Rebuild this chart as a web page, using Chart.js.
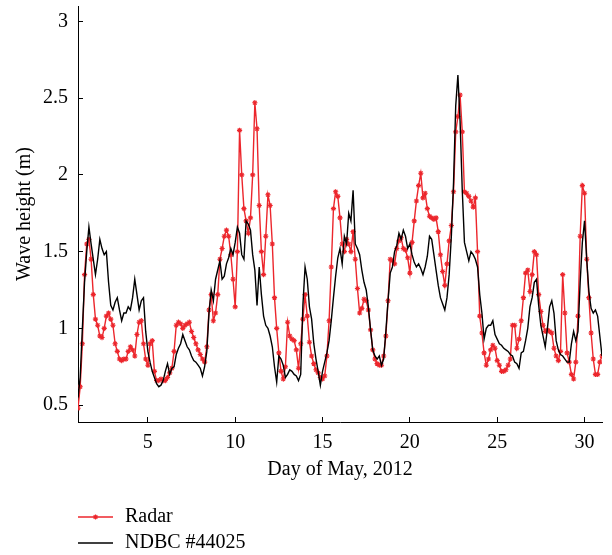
<!DOCTYPE html>
<html>
<head>
<meta charset="utf-8">
<title>Wave height, May 2012</title>
<script src="https://cdn.jsdelivr.net/npm/chart.js@4.4.0/dist/chart.umd.min.js"></script>
<style>
  html, body { margin: 0; padding: 0; background: #fff; }
  #wrap { width: 612px; height: 555px; }
</style>
</head>
<body>
<div id="wrap"><canvas id="waveChart" width="612" height="555"></canvas></div>
<script>
// 3-hourly samples, starting May 1 00:00 (day 1) up to day 31
const radarHs = [
  0.48, 0.62, 0.90, 1.35, 1.55, 1.58, 1.45, 1.22,
  1.06, 1.02, 0.95, 0.94, 1.00, 1.08, 1.10, 1.06,
  1.02, 0.90, 0.85, 0.80, 0.79, 0.80, 0.80, 0.85,
  0.88, 0.86, 0.82, 0.96, 1.04, 1.05, 0.90, 0.80,
  0.76, 0.90, 0.92, 0.72, 0.66, 0.66, 0.67, 0.66,
  0.66, 0.68, 0.71, 0.74, 0.85, 1.02, 1.04, 1.03,
  1.00, 1.02, 1.03, 1.04, 0.98, 0.94, 0.90, 0.86,
  0.83, 0.80, 0.78, 0.88, 1.12, 1.22, 1.05, 1.10,
  1.22, 1.45, 1.52, 1.60, 1.64, 1.60, 1.48, 1.32,
  1.14, 1.50, 2.29, 2.00, 1.78, 1.70, 1.62, 1.72,
  2.00, 2.47, 2.30, 1.80, 1.50, 1.35, 1.60, 1.87,
  1.80, 1.55, 1.20, 1.00, 0.84, 0.72, 0.67, 0.75,
  1.04, 0.95, 0.93, 0.92, 0.86, 0.74, 0.90, 1.06,
  1.22, 1.08, 0.91, 0.82, 0.77, 0.73, 0.71, 0.68,
  0.67, 0.69, 0.82, 1.05, 1.40, 1.78, 1.89, 1.86,
  1.72, 1.55, 1.50, 1.58, 1.55, 1.50, 1.63, 1.45,
  1.26, 1.10, 1.13, 1.19, 1.18, 1.12, 0.99, 0.86,
  0.80, 0.77, 0.76, 0.76, 0.82, 0.95, 1.18, 1.45,
  1.44, 1.42, 1.52, 1.57, 1.59, 1.52, 1.51, 1.46,
  1.36, 1.56, 1.70, 1.83, 1.93, 2.01, 1.85, 1.88,
  1.78, 1.73, 1.72, 1.71, 1.72, 1.63, 1.48, 1.37,
  1.28, 1.42, 1.57, 1.67, 1.89, 2.28, 2.38, 2.52,
  2.28, 1.89, 1.88, 1.86, 1.83, 1.79, 1.85, 1.50,
  1.08, 0.97, 0.84, 0.76, 0.80, 0.86, 0.89, 0.87,
  0.79, 0.76, 0.72, 0.72, 0.73, 0.76, 0.80, 1.02,
  1.02, 0.87, 0.93, 1.05, 1.20, 1.36, 1.38, 1.24,
  1.35, 1.50, 1.48, 1.22, 1.11, 1.02, 0.98, 0.99,
  0.98, 0.97, 0.87, 0.82, 0.79, 0.85, 1.35, 1.10,
  0.84, 0.78, 0.70, 0.67, 0.78, 1.08, 1.60, 1.93,
  1.88, 1.45, 1.20, 0.97, 0.80, 0.70, 0.70, 0.78,
  0.82
];

const buoyHs = [
  0.55, 0.68, 1.00, 1.30, 1.50, 1.66, 1.55, 1.45,
  1.35, 1.45, 1.58, 1.52, 1.48, 1.50, 1.30, 1.15,
  1.12, 1.17, 1.20, 1.12, 1.05, 1.10, 1.10, 1.14,
  1.12, 1.20, 1.32, 1.22, 1.12, 1.18, 1.20, 0.98,
  0.85, 0.78, 0.72, 0.68, 0.64, 0.62, 0.63, 0.66,
  0.72, 0.77, 0.70, 0.74, 0.75, 0.83, 0.87, 0.90,
  0.96, 0.92, 0.88, 0.86, 0.82, 0.79, 0.78, 0.76,
  0.74, 0.69, 0.75, 0.85, 1.10, 1.25, 1.18, 1.32,
  1.38, 1.44, 1.32, 1.34, 1.42, 1.46, 1.52, 1.48,
  1.56, 1.66, 1.62, 1.48, 1.45, 1.70, 1.68, 1.64,
  1.48, 1.38, 1.15, 1.40, 1.22, 1.08, 1.02, 1.00,
  0.95, 0.88, 0.75, 0.65, 0.82, 0.80, 0.76, 0.68,
  0.70, 0.73, 0.72, 0.70, 0.69, 0.66, 0.70, 1.15,
  1.40, 1.32, 1.14, 1.06, 0.90, 0.80, 0.72, 0.63,
  0.72, 0.78, 0.84, 0.92, 1.05, 1.20, 1.34, 1.46,
  1.52, 1.42, 1.60, 1.55, 1.75, 1.70, 1.90, 1.55,
  1.52, 1.48, 1.38, 1.30, 1.25, 1.14, 0.99, 0.86,
  0.82, 0.80, 0.82, 0.76, 0.80, 0.98, 1.18, 1.36,
  1.40, 1.50, 1.54, 1.62, 1.58, 1.64, 1.60, 1.52,
  1.55, 1.48, 1.43, 1.40, 1.42, 1.39, 1.35, 1.40,
  1.47, 1.60, 1.58, 1.48, 1.38, 1.28, 1.20, 1.16,
  1.12, 1.20, 1.35, 1.60, 1.95, 2.45, 2.65, 2.35,
  1.90, 1.56, 1.50, 1.44, 1.50, 1.48, 1.45, 1.40,
  1.22, 1.10, 0.93, 1.00, 1.02, 1.02, 1.05, 0.96,
  0.93, 0.90, 0.89, 0.87, 0.86, 0.85, 0.83, 0.82,
  0.78, 0.77, 0.74, 0.84, 0.85, 0.92, 1.00, 1.14,
  1.20, 1.30, 1.32, 1.15, 1.02, 0.95, 0.88, 1.00,
  1.14, 1.18, 1.10, 0.92, 0.86, 0.83, 0.82, 0.80,
  0.78, 0.78, 0.90, 0.98, 0.92, 0.98, 1.30, 1.56,
  1.70, 1.45, 1.24, 1.13, 1.10, 1.12, 1.08, 0.95,
  0.82
];

// sample time in days of May (every 3 hours)
const days = radarHs.map((_, i) => 1 + i / 8);

const xTicks = [5, 10, 15, 20, 25, 30];
const yTicks = [0.5, 1, 1.5, 2, 2.5, 3];

const FONT = '"Liberation Serif", "Times New Roman", serif';
const RED = 'rgb(236, 38, 44)';

// Legend stacked under the x axis title, like the printed figure
const stackedLegend = {
  id: 'stackedLegend',
  afterDraw(chart) {
    const ctx = chart.ctx;
    ctx.save();
    chart.data.datasets.forEach((ds, i) => {
      const y = 517 + i * 26;
      ctx.strokeStyle = ds.borderColor;
      ctx.lineWidth = ds.borderWidth;
      ctx.beginPath();
      ctx.moveTo(78, y);
      ctx.lineTo(113, y);
      ctx.stroke();
      if (ds.pointRadius > 0) {
        ctx.fillStyle = ds.pointBorderColor;
        ctx.strokeStyle = ds.pointBorderColor;
        ctx.lineWidth = ds.pointBorderWidth;
        Chart.helpers.drawPoint(ctx, {
          pointStyle: ds.pointStyle,
          radius: ds.pointRadius,
          borderWidth: ds.pointBorderWidth,
          rotation: 0
        }, 95.5, y);
      }
      ctx.fillStyle = '#000';
      ctx.font = '20px ' + FONT;
      ctx.textAlign = 'left';
      ctx.textBaseline = 'middle';
      ctx.fillText(ds.label, 125, y);
    });
    ctx.restore();
  }
};

const ctx = document.getElementById('waveChart').getContext('2d');

new Chart(ctx, {
  type: 'line',
  data: {
    datasets: [
      {
        label: 'Radar',
        data: days.map((d, i) => ({ x: d, y: radarHs[i] })),
        borderColor: RED,
        borderWidth: 1.4,
        pointStyle: 'star',
        pointRadius: 2.6,
        pointBorderColor: RED,
        pointBackgroundColor: RED,
        pointBorderWidth: 1.1,
        tension: 0,
        order: 2
      },
      {
        label: 'NDBC #44025',
        data: days.map((d, i) => ({ x: d, y: buoyHs[i] })),
        borderColor: '#000',
        borderWidth: 1.4,
        pointRadius: 0,
        tension: 0,
        order: 1
      }
    ]
  },
  options: {
    responsive: false,
    animation: false,
    layout: {
      padding: { top: 6, right: 10, bottom: 68, left: 0 }
    },
    plugins: {
      legend: { display: false },
      tooltip: { enabled: false }
    },
    scales: {
      x: {
        type: 'linear',
        min: 1,
        max: 31,
        afterBuildTicks: scale => { scale.ticks = xTicks.map(v => ({ value: v })); },
        afterFit: scale => {
          scale.height = 65;
          scale.paddingLeft = 0;
          scale.paddingRight = 0;
        },
        ticks: {
          color: '#000',
          padding: 14,
          maxRotation: 0,
          font: { family: FONT, size: 20 },
          callback: v => String(v)
        },
        grid: {
          drawOnChartArea: false,
          drawTicks: true,
          tickLength: -5,
          color: '#000'
        },
        border: { color: '#000', width: 1 },
        title: {
          display: true,
          text: 'Day of May, 2012',
          color: '#000',
          font: { family: FONT, size: 20 },
          padding: { top: 0, bottom: 5 }
        }
      },
      y: {
        type: 'linear',
        min: 0.39,
        max: 3.1,
        afterBuildTicks: scale => { scale.ticks = yTicks.map(v => ({ value: v })); },
        afterFit: scale => {
          scale.width = 78;
          scale.paddingTop = 0;
          scale.paddingBottom = 0;
        },
        ticks: {
          color: '#000',
          padding: 15,
          font: { family: FONT, size: 20 },
          callback: v => String(v)
        },
        grid: {
          drawOnChartArea: false,
          drawTicks: true,
          tickLength: -5,
          color: '#000'
        },
        border: { color: '#000', width: 1 },
        title: {
          display: true,
          text: 'Wave height (m)',
          color: '#000',
          font: { family: FONT, size: 20 },
          padding: { top: 13, bottom: 0 }
        }
      }
    }
  },
  plugins: [stackedLegend]
});
</script>
</body>
</html>
